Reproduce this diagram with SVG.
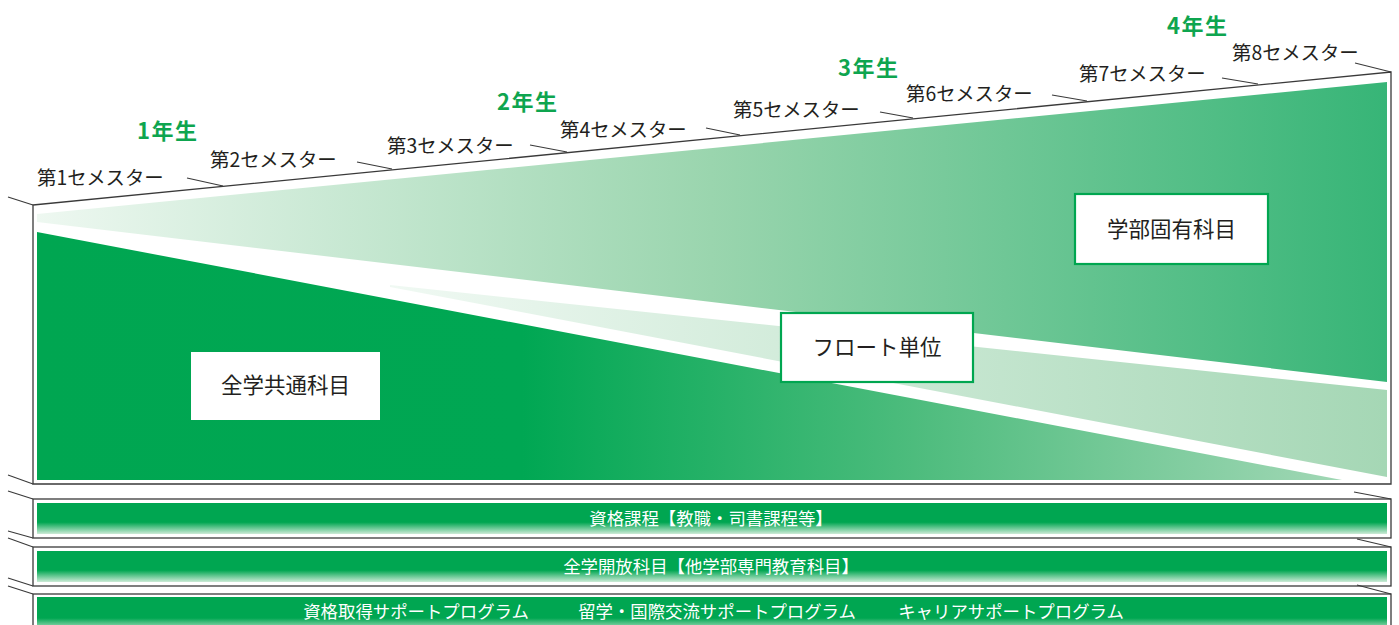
<svg xmlns="http://www.w3.org/2000/svg" width="1399" height="625" viewBox="0 0 1399 625">
<defs>
<style>
.sem{font-family:"Noto Sans CJK JP","Noto Sans",sans-serif;font-size:19.4px;fill:#231f20}
.yr{font-family:"Noto Sans CJK JP","Noto Sans",sans-serif;font-size:22px;font-weight:bold;fill:#0ea54f;letter-spacing:1.5px}
.lbl{font-family:"Noto Sans CJK JP","Noto Sans",sans-serif;font-size:21.5px;fill:#231f20;text-anchor:middle}
.bart{font-family:"Noto Sans CJK JP","Noto Sans",sans-serif;font-size:17.4px;fill:#ffffff;text-anchor:middle}
.frame{fill:none;stroke:#3a3a3a;stroke-width:1.3}
.tick{fill:none;stroke:#3a3a3a;stroke-width:1.1}
.box{fill:#ffffff;stroke:#00a650;stroke-width:2.2}
.bar{fill:url(#barG)}
</style>
<linearGradient id="topG" x1="37" y1="0" x2="1386" y2="0" gradientUnits="userSpaceOnUse">
<stop offset="0" stop-color="#eef8f1"/>
<stop offset="0.5" stop-color="#9ad5ae"/>
<stop offset="1" stop-color="#37b577"/>
</linearGradient>
<linearGradient id="floatG" x1="390" y1="0" x2="1386" y2="0" gradientUnits="userSpaceOnUse">
<stop offset="0" stop-color="#f0f9f3"/>
<stop offset="1" stop-color="#a5d7b5"/>
</linearGradient>
<linearGradient id="baseG" x1="37" y1="0" x2="1386" y2="0" gradientUnits="userSpaceOnUse">
<stop offset="0" stop-color="#00a651"/>
<stop offset="0.36" stop-color="#00a753"/>
<stop offset="0.65" stop-color="#4dbc7d"/>
<stop offset="1" stop-color="#aadabb"/>
</linearGradient>
<linearGradient id="barG" x1="0" y1="0" x2="0" y2="1">
<stop offset="0" stop-color="#00a651"/>
<stop offset="0.62" stop-color="#00a651"/>
<stop offset="1" stop-color="#cdebd7"/>
</linearGradient>
</defs>
<rect width="1399" height="625" fill="#ffffff"/>

<g id="main-frame">
<polygon class="frame" points="33,205 1391,72 1391,484 33,484"/>
</g>

<g id="bands">
<polygon id="senmon-band" points="37,214 1387,82 1387,382 37,222" fill="url(#topG)"/>
<polygon id="float-band" points="390,285 1387,390 1387,480 1387,477 390,287" fill="url(#floatG)"/>
<polygon id="kyotsu-band" points="37,232 1342,480 37,480" fill="url(#baseG)"/>
</g>

<g id="connectors">
<line class="tick" x1="8" y1="197" x2="33" y2="205"/>
<line class="tick" x1="187" y1="178" x2="223" y2="186"/>
<line class="tick" x1="357" y1="162" x2="392" y2="169"/>
<line class="tick" x1="530" y1="145" x2="567" y2="152"/>
<line class="tick" x1="706" y1="128" x2="740" y2="135"/>
<line class="tick" x1="880" y1="112" x2="913" y2="118"/>
<line class="tick" x1="1052" y1="95" x2="1087" y2="101"/>
<line class="tick" x1="1222" y1="78" x2="1258" y2="84"/>
<line class="tick" x1="1355" y1="63" x2="1391" y2="72"/>
<line class="tick" x1="8" y1="475" x2="33" y2="484"/>
<line class="tick" x1="8" y1="491" x2="33" y2="499"/>
<line class="tick" x1="8" y1="531" x2="33" y2="538"/>
<line class="tick" x1="8" y1="538" x2="33" y2="547"/>
<line class="tick" x1="8" y1="578" x2="33" y2="586"/>
<line class="tick" x1="8" y1="586" x2="33" y2="594"/>
<line class="tick" x1="1354" y1="492" x2="1391" y2="499"/>
<line class="tick" x1="1357" y1="539" x2="1391" y2="547"/>
<line class="tick" x1="1357" y1="585" x2="1391" y2="594"/>
</g>

<g id="semesters">
<text class="sem" x="37" y="185">第1セメスター</text>
<text class="sem" x="210" y="167">第2セメスター</text>
<text class="sem" x="387" y="153">第3セメスター</text>
<text class="sem" x="560" y="137">第4セメスター</text>
<text class="sem" x="733" y="117">第5セメスター</text>
<text class="sem" x="906" y="101">第6セメスター</text>
<text class="sem" x="1079" y="81">第7セメスター</text>
<text class="sem" x="1232" y="60">第8セメスター</text>
</g>

<g id="years">
<text class="yr" x="137" y="139">1年生</text>
<text class="yr" x="497" y="110">2年生</text>
<text class="yr" x="838" y="76">3年生</text>
<text class="yr" x="1167" y="34">4年生</text>
</g>

<g id="node-senmon">
<rect class="box" x="1075" y="194" width="193" height="70"/>
<text class="lbl" x="1171.5" y="236.5">学部固有科目</text>
</g>
<g id="node-float">
<rect class="box" x="781" y="313" width="192" height="69"/>
<text class="lbl" x="877" y="355">フロート単位</text>
</g>
<g id="node-kyotsu">
<rect x="191" y="352" width="189" height="68" fill="#ffffff"/>
<text class="lbl" x="285.5" y="393">全学共通科目</text>
</g>

<g id="node-bar1">
<rect class="frame" x="33" y="499" width="1358" height="39"/>
<rect class="bar" x="37" y="503" width="1350" height="31"/>
<text class="bart" x="711" y="525">資格課程【教職・司書課程等】</text>
</g>
<g id="node-bar2">
<rect class="frame" x="33" y="547" width="1358" height="39"/>
<rect class="bar" x="37" y="551" width="1350" height="31"/>
<text class="bart" x="711" y="573">全学開放科目【他学部専門教育科目】</text>
</g>
<g id="node-bar3">
<rect class="frame" x="33" y="594" width="1358" height="40"/>
<rect class="bar" x="37" y="597" width="1350" height="34"/>
<text class="bart" x="416" y="618">資格取得サポートプログラム</text>
<text class="bart" x="717" y="618">留学・国際交流サポートプログラム</text>
<text class="bart" x="1011" y="618">キャリアサポートプログラム</text>
</g>
</svg>
